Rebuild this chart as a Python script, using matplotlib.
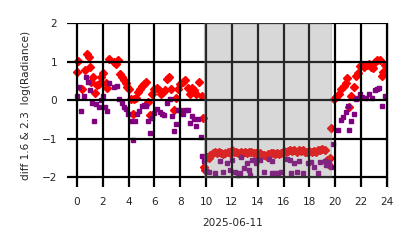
import matplotlib.pyplot as plt

# hours of 2025-06-11 and log radiance difference
red_hours = [0.0, 0.1, 0.36, 0.62, 0.8, 0.95, 1.0, 1.1, 1.22, 1.4, 1.53, 1.7, 1.86, 2.0,
             2.25, 2.35, 2.5, 2.87, 3.0, 3.2, 3.34, 3.5, 3.65, 3.8, 3.9, 4.05, 4.17,
             4.32, 4.43, 4.6, 4.7, 4.85, 5.0, 5.2, 5.35, 5.5, 5.67, 5.8, 6.0, 6.2,
             6.37, 6.5, 6.65, 6.8, 6.97, 7.15, 7.3, 7.48, 7.65, 7.8, 8.0, 8.2, 8.4,
             8.57, 8.75, 8.9, 9.05, 9.25, 9.45, 9.65, 9.77, 9.8, 9.95,
             10.05, 10.2, 10.33, 10.5, 10.67, 10.83, 11.0, 11.17, 11.33, 11.5, 11.67,
             11.83, 12.0, 12.17, 12.33, 12.5, 12.67, 12.83, 13.0, 13.17, 13.33, 13.5,
             13.67, 13.83, 14.0, 14.17, 14.33, 14.5, 14.67, 14.83, 15.0, 15.17, 15.33,
             15.5, 15.67, 15.83, 16.0, 16.17, 16.33, 16.5, 16.67, 16.83, 17.0, 17.17,
             17.33, 17.5, 17.67, 17.83, 18.0, 18.17, 18.33, 18.5, 18.67, 18.83, 19.0,
             19.17, 19.33, 19.45, 19.6, 19.7,
             19.92, 20.05, 20.27, 20.45, 20.65, 20.8, 20.9, 21.08, 21.2, 21.47, 21.6,
             21.73, 21.93, 22.1, 22.25, 22.45, 22.6, 22.8, 22.95, 23.05, 23.26, 23.45,
             23.6, 23.72, 23.85]
red_diff = [0.74, 1.01, 0.30, 0.78, 1.21, 1.13, 0.87, 0.48, 0.59, 0.19, 0.39, 0.43, 0.59,
            0.70, 0.45, 0.32, 1.06, 1.0, 0.95, 1.04, 0.68, 0.59, 0.52, 0.45, 0.33, 0.28,
            0.02, -0.35, 0.02, 0.05, 0.22, 0.30, 0.36, 0.43, 0.47, -0.04, -0.39, 0.17,
            0.28, 0.32, 0.26, 0.17, 0.22, 0.26, 0.54, 0.61, 0.30, -0.26, 0.05, 0.30,
            0.43, 0.47, 0.52, 0.32, 0.15, 0.32, 0.26, 0.15, 0.47, 0.12, -0.45, -1.72,
            -1.82,
            -1.47, -1.5, -1.42, -1.38, -1.35, -1.37, -1.34, -1.36, -1.4, -1.37, -1.33,
            -1.36, -1.3, -1.34, -1.33, -1.36, -1.34, -1.36, -1.33, -1.38, -1.35, -1.33,
            -1.38, -1.36, -1.4, -1.37, -1.43, -1.41, -1.44, -1.39, -1.37, -1.38, -1.4,
            -1.38, -1.39, -1.36, -1.31, -1.34, -1.32, -1.29, -1.32, -1.3, -1.33, -1.3,
            -1.32, -1.29, -1.33, -1.35, -1.32, -1.34, -1.31, -1.33, -1.3, -1.28, -1.27,
            -1.3, -1.55, -1.65, -1.5, -0.72,
            0.02, 0.08, 0.17, 0.30, 0.38, 0.44, 0.58, -0.17, 0.11, 0.34, 0.64, 0.70,
            0.88, 0.90, 0.87, 0.91, 0.95, 0.87, 0.83, 1.0, 1.04, 1.03, 0.63, 0.74, 0.91]

purple_hours = [0.0, 0.16, 0.3, 0.54, 0.7, 0.85, 1.0, 1.15, 1.35, 1.5, 1.7, 1.86, 2.0,
                2.17, 2.3, 2.5, 2.87, 3.07, 3.27, 3.48, 3.65, 3.8, 3.98, 4.18, 4.3,
                4.47, 4.62, 4.8, 5.0, 5.2, 5.35, 5.48, 5.63, 5.8, 6.0, 6.2, 6.4, 6.57,
                6.75, 6.97, 7.17, 7.35, 7.53, 7.7, 7.83, 8.0, 8.2, 8.4, 8.57, 8.72,
                8.88, 9.05, 9.18, 9.37, 9.57, 9.7, 9.8, 10.0,
                10.2, 10.72, 11.06, 11.3, 11.58, 11.86, 12.0, 12.2, 12.45, 12.6, 12.72,
                12.93, 13.14, 13.32, 13.4, 13.57, 13.75, 13.9, 14.2, 14.45, 14.9, 15.1,
                15.1, 15.35, 15.6, 15.8, 16.3, 16.5, 16.55, 16.8, 17.05, 17.2, 17.5,
                17.9, 18.15, 18.33, 18.66, 18.85, 19.2, 19.3, 19.5, 19.7, 19.85,
                20.25, 20.43, 20.6, 20.8, 20.95, 21.07, 21.25, 21.45, 21.6, 21.8, 21.95,
                22.1, 22.35, 22.6, 22.85, 23.05, 23.25, 23.4, 23.6, 23.85]
purple_diff = [0.10, 0.33, -0.29, 0.12, 0.59, 0.48, 0.26, -0.07, -0.54, -0.11, -0.18,
               0.0, 0.10, -0.18, -0.27, 0.44, 0.35, 0.37, 0.02, -0.08, -0.17, -0.24,
               -0.35, -0.54, -1.04, -0.54, -0.36, -0.27, -0.15, -0.12, -0.15, -0.54,
               -0.85, -0.45, -0.33, -0.24, -0.30, -0.36, -0.38, -0.07, 0.02, -0.40,
               -0.81, -0.61, -0.25, -0.25, -0.36, -0.25, -0.25, -0.58, -0.40, -0.49,
               -0.66, -0.49, -0.95, -1.44, -1.58, -1.84,
               -1.86, -1.9, -1.57, -1.86, -1.64, -1.82, -1.55, -1.86, -1.95, -1.9,
               -1.47, -1.75, -1.63, -1.82, -1.95, -1.56, -1.55, -1.63, -1.55, -1.86,
               -1.52, -1.57, -1.9, -1.9, -1.9, -1.86, -1.52, -1.55, -1.88, -1.64,
               -1.86, -1.57, -1.88, -1.63, -1.61, -1.72, -1.9, -1.61, -1.57, -1.69,
               -1.59, -1.73, -1.14,
               -0.78, -0.52, -0.43, -0.30, -0.16, -0.78, -0.53, -0.36, 0.02, 0.07, 0.16,
               0.09, 0.07, 0.17, 0.07, 0.26, 0.30, 0.32, -0.14, 0.11]

night_start, night_end = 9.85, 19.7

fig = plt.figure(figsize=(4.14, 2.48), dpi=100)
ax = fig.add_axes([0.162, 0.246, 0.775, 0.661])

ax.plot(red_hours, red_diff, linestyle='none', marker='D', markersize=3.6,
        color='red', zorder=2)
ax.plot(purple_hours, purple_diff, linestyle='none', marker='s', markersize=3,
        color='purple', zorder=2)
ax.fill_between([night_start, night_end], -2, 2, color='gray', alpha=0.3,
                linewidth=1, zorder=3)

ax.set_xlim(-0.77, 24.08)
ax.set_ylim(-2.25, 2.0)
ax.set_xticks(range(0, 25, 2))
ax.set_yticks([-2, -1, 0, 1, 2])
ax.grid(True, color='black', linewidth=1.6, zorder=4)
ax.set_axisbelow(False)
for name, s in ax.spines.items():
    s.set_visible(name == 'right')
    s.set_color('0.8')
ax.tick_params(length=0, labelsize=7.6, labelcolor='#262626', pad=7)
ax.set_xlabel('2025-06-11', fontsize=7.6, color='#262626')
ax.xaxis.set_label_coords(0.515, -0.19)
ax.set_ylabel('diff 1.6 & 2.3  log(Radiance)', fontsize=7.6, color='#262626',
              labelpad=8)

fig.savefig('out.png', dpi=100)
